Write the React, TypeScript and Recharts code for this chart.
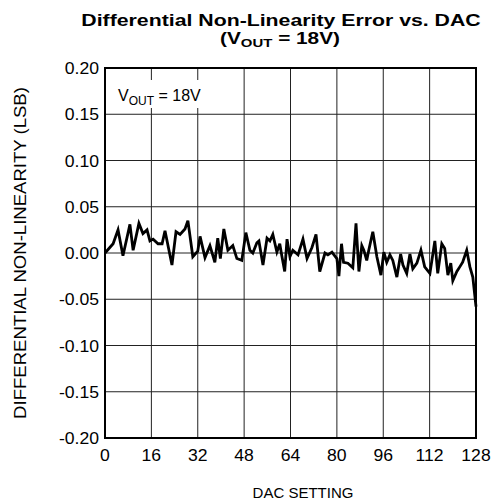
import React from 'react';
import { LineChart, Line, XAxis, YAxis, CartesianGrid, ReferenceArea } from 'recharts';

const dacSetting = [
  0, 2.8, 4.5, 6.2, 8.6, 9.7, 11.7, 13.1, 14.5, 15.5,
  16.6, 18.3, 19.7, 20.7, 23.1, 24.5, 25.9, 27.6, 28.6, 30.3,
  32, 32.8, 34.5, 36.2, 37.9, 38.9, 39.8, 41, 42.4, 44.1,
  45.5, 47.2, 48.6, 50, 51, 52.4, 53.1, 54.5, 55.9, 56.9,
  57.9, 59.3, 60.3, 61, 62, 62.8, 63.8, 64.8, 66.6, 68.3,
  69.7, 71.4, 72.8, 74.1, 75.9, 76.9, 78.3, 80, 80.7, 81.6,
  82.3, 83.8, 85.5, 86.6, 87.6, 88.6, 89.3, 90.3, 91, 92.4,
  93.8, 95.2, 96.2, 97.2, 98.3, 99.3, 100.7, 102, 102.8, 104.1,
  105.2, 106.2, 107.6, 109, 110.3, 112.1, 113.8, 114.8, 116.2, 117.2,
  118.3, 119.3, 120, 121.4, 122.4, 123.4, 124.8, 125.9, 126.9, 128,
];

const dnlLsb = [
  0, 0.01, 0.025, -0.003, 0.031, 0.003, 0.032, 0.021, 0.025, 0.013,
  0.015, 0.01, 0.01, 0.024, -0.013, 0.023, 0.02, 0.026, 0.035, -0.004,
  0.002, 0.018, -0.005, 0.008, -0.01, 0.016, -0.006, 0.026, 0.003, 0.008,
  -0.006, -0.008, 0.022, 0.003, 0, 0.011, 0.013, -0.013, 0.016, 0.013,
  0.02, 0.001, 0.01, -0.003, -0.02, 0.015, -0.004, 0.003, -0.002, 0.015,
  -0.006, 0.006, 0.02, -0.02, 0, -0.002, 0.001, -0.006, -0.025, 0.01,
  -0.01, -0.011, -0.016, 0.032, -0.02, 0.008, 0.003, -0.008, 0.003, 0.023,
  -0.004, -0.024, 0.001, -0.01, -0.002, -0.008, -0.026, -0.001, -0.013, -0.022,
  -0.001, -0.017, -0.011, 0.003, -0.015, -0.022, 0.013, -0.022, 0.01, 0.005,
  -0.024, -0.011, -0.03, -0.02, -0.015, -0.01, 0.003, -0.015, -0.026, -0.058,
];

const xTicks = [0, 16, 32, 48, 64, 80, 96, 112, 128];
const yTicks = [-0.2, -0.15, -0.1, -0.05, 0, 0.05, 0.1, 0.15, 0.2];

const titleLine1 = 'Differential Non-Linearity Error vs. DAC';
const xTitle = 'DAC SETTING';
const yTitle = 'DIFFERENTIAL NON-LINEARITY (LSB)';

const rows = dacSetting.map((d, i) => ({ dac: d, dnl: dnlLsb[i] }));

const FONT = '"Liberation Sans", Arial, Helvetica, sans-serif';

const XTick = (props: any) => {
  const { x, payload } = props;
  return (
    <text
      transform={`translate(${x} 461) scale(1.1 1)`}
      textAnchor="middle"
      fontFamily={FONT}
      fontSize={16}
      fill="#000"
    >
      {String(payload.value)}
    </text>
  );
};

const YTick = (props: any) => {
  const { y, payload } = props;
  return (
    <text
      transform={`translate(99 ${y + 6}) scale(1.1 1)`}
      textAnchor="end"
      fontFamily={FONT}
      fontSize={16}
      fill="#000"
    >
      {Number(payload.value).toFixed(2)}
    </text>
  );
};

export default function App() {
  return (
    <div style={{ position: 'absolute', left: 0, top: 0, width: 497, height: 502, background: '#fff' }}>
      <LineChart
        width={497}
        height={502}
        data={rows}
        margin={{ top: 68, right: 21, left: 0, bottom: 24 }}
      >
        <CartesianGrid stroke="#222" strokeWidth={1} horizontalValues={yTicks} verticalValues={xTicks} />
        <XAxis
          dataKey="dac"
          type="number"
          domain={[0, 128]}
          ticks={xTicks}
          tickLine={false}
          axisLine={false}
          tick={<XTick />}
          height={40}
          interval={0}
        />
        <YAxis
          type="number"
          domain={[-0.2, 0.2]}
          ticks={yTicks}
          tickLine={false}
          axisLine={false}
          tick={<YTick />}
          width={105}
          interval={0}
          allowDataOverflow
        />
        <ReferenceArea x1={0} x2={128} y1={-0.2} y2={0.2} fill="none" stroke="#000" strokeWidth={2} ifOverflow="visible" />
        <Line
          type="linear"
          dataKey="dnl"
          stroke="#000"
          strokeWidth={2.8}
          dot={false}
          isAnimationActive={false}
        />
      </LineChart>
      <svg
        width={497}
        height={502}
        style={{ position: 'absolute', left: 0, top: 0, pointerEvents: 'none' }}
      >
        <text
          transform="translate(281 26) scale(1.33 1)"
          textAnchor="middle"
          fontFamily={FONT}
          fontSize={16}
          fontWeight="bold"
          fill="#000"
        >
          {titleLine1}
        </text>
        <text
          transform="translate(280 44) scale(1.3 1)"
          textAnchor="middle"
          fontFamily={FONT}
          fontSize={16}
          fontWeight="bold"
          fill="#000"
        >
          (V<tspan fontSize={11.5} dy={3}>OUT</tspan><tspan dy={-3}> = 18V)</tspan>
        </text>
        <rect x={112} y={80} width={92} height={28} fill="#fff" />
        <text x={118} y={101} fontFamily={FONT} fontSize={16} fill="#000">
          V<tspan fontSize={12} dy={4}>OUT</tspan><tspan dy={-4}> = 18V</tspan>
        </text>
        <text x={303} y={498} fontFamily={FONT} fontSize={15} textAnchor="middle" fill="#000">
          {xTitle}
        </text>
        <text
          transform="translate(26 253) rotate(-90) scale(1.16 1)"
          fontFamily={FONT}
          fontSize={16}
          textAnchor="middle"
          fill="#000"
        >
          {yTitle}
        </text>
      </svg>
    </div>
  );
}
